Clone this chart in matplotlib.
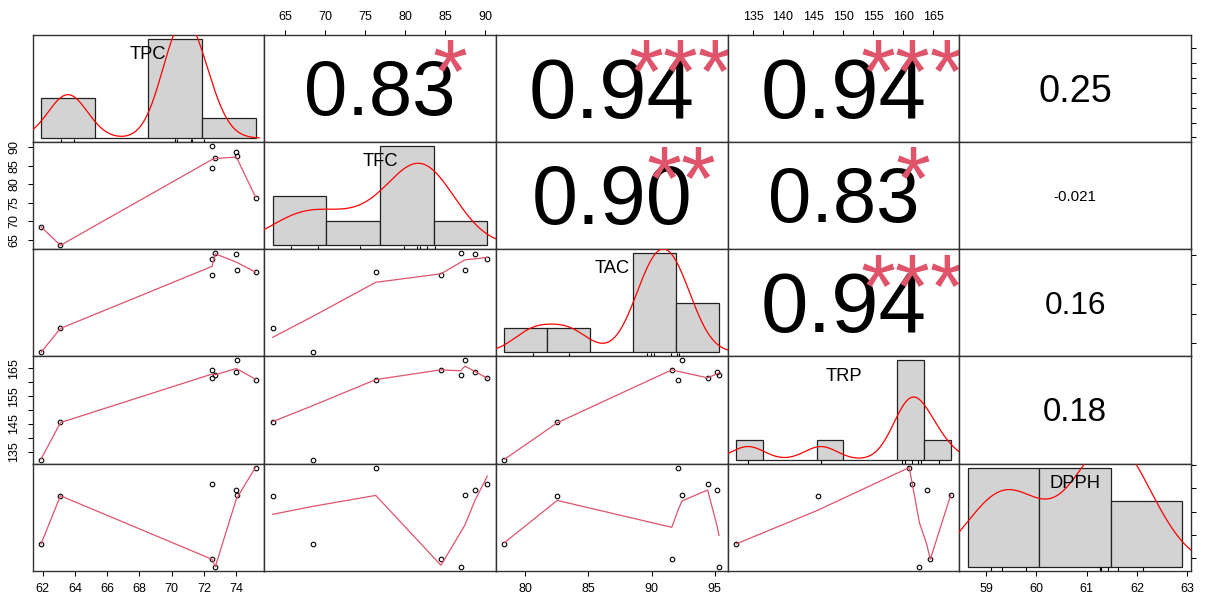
import numpy as np
import matplotlib
matplotlib.use("Agg")
import matplotlib.pyplot as plt
from matplotlib.textpath import TextPath
from matplotlib.font_manager import FontProperties
from matplotlib.transforms import offset_copy

plt.rcParams["font.family"] = "Liberation Sans"

# measurements for the 8 samples
names = ["TPC", "TFC", "TAC", "TRP", "DPPH"]
tpc = [61.9, 63.1, 72.5, 72.5, 72.7, 74.05, 74.0, 75.2]
tfc = [68.45, 63.47, 84.5, 90.3, 86.95, 87.5, 88.75, 76.35]
tac = [78.35, 82.53, 91.6, 94.44, 95.34, 92.42, 95.15, 92.13]
trp = [132.2, 145.8, 164.5, 161.5, 162.7, 167.9, 163.9, 161.0]
dpph = [59.62, 61.69, 58.96, 62.2, 58.64, 61.72, 61.92, 62.9]

# upper triangle, row by row: correlation text and significance stars
cor_text = ["0.83", "0.94", "0.94", "0.25", "0.90", "0.83", "-0.021", "0.94", "0.16", "0.18"]
cor_stars = ["*", "***", "***", "", "**", "*", "", "***", "", ""]

W_PX, H_PX, DPI = 1205, 594, 100
LEFT, RIGHT, TOP, BOTTOM = 32.5, 1191.0, 35.0, 570.7
TEXT_SHRINK = 0.94
LABEL_FS = 9
STAR_COL = "#DF536B"
FP = FontProperties(family="Liberation Sans")
ADV = {".": 0.278, "-": 0.333, "*": 0.389}


def pretty_unit(lo, hi, n, h, h5):
    cell = (hi - lo) / n
    base = 10 ** np.floor(np.log10(cell))
    unit = base
    if 2 * base - cell < h * (cell - unit):
        unit = 2 * base
        if 5 * base - cell < h5 * (cell - unit):
            unit = 5 * base
            if 10 * base - cell < h * (cell - unit):
                unit = 10 * base
    return unit


def axis_ticks(lo, hi):
    u = pretty_unit(lo, hi, 5, 0.8, 1.7)
    return np.arange(np.ceil(lo / u - 1e-10), np.floor(hi / u + 1e-10) + 1) * u


def fd_breaks(x):
    q1, q3 = np.percentile(x, [25, 75])
    h = 2 * (q3 - q1) * len(x) ** (-1 / 3)
    k = int(np.ceil((x.max() - x.min()) / h)) if h > 0 else 1
    u = pretty_unit(x.min(), x.max(), k, 1.5, 2.75)
    lo = np.floor(x.min() / u + 1e-7)
    hi = np.ceil(x.max() / u - 1e-7)
    return np.arange(lo, hi + 1) * u


def extend(v):
    lo, hi = min(v), max(v)
    d = 0.04 * (hi - lo)
    return lo - d, hi + d


def lowest(x, y, xs, nleft, nright, rw, userw):
    n = len(x)
    rng = x[-1] - x[0]
    h = max(xs - x[nleft], x[nright] - xs)
    h9, h1 = 0.999 * h, 0.001 * h
    w = np.zeros(n)
    a = 0.0
    j = nleft
    while j < n:
        r = abs(x[j] - xs)
        if r <= h9:
            w[j] = 1.0 if r <= h1 else (1 - (r / h) ** 3) ** 3
            if userw:
                w[j] *= rw[j]
            a += w[j]
        elif x[j] > xs:
            break
        j += 1
    nrt = j - 1
    if a <= 0:
        return None
    sl = slice(nleft, nrt + 1)
    w[sl] /= a
    if h > 0:
        a = np.sum(w[sl] * x[sl])
        b = xs - a
        c = np.sum(w[sl] * (x[sl] - a) ** 2)
        if np.sqrt(c) > 0.001 * rng:
            b /= c
            w[sl] *= b * (x[sl] - a) + 1
    return np.sum(w[sl] * y[sl])


def lowess(x, y, f=2 / 3, iters=3):
    o = np.argsort(x, kind="stable")
    x = np.asarray(x, float)[o]
    y = np.asarray(y, float)[o]
    n = len(x)
    ns = max(2, min(n, int(f * n + 1e-7)))
    delta = 0.01 * (x[-1] - x[0])
    rw = np.ones(n)
    ys = np.zeros(n)
    for it in range(iters + 1):
        nleft, nright = 0, ns - 1
        last, i = -1, 0
        while True:
            while nright < n - 1:
                if x[i] - x[nleft] <= x[nright + 1] - x[i]:
                    break
                nleft += 1
                nright += 1
            v = lowest(x, y, x[i], nleft, nright, rw, it > 0)
            ys[i] = y[i] if v is None else v
            if last < i - 1:
                den = x[i] - x[last]
                for j in range(last + 1, i):
                    al = (x[j] - x[last]) / den
                    ys[j] = al * ys[i] + (1 - al) * ys[last]
            last = i
            cut = x[last] + delta
            i = last + 1
            while i < n:
                if x[i] > cut:
                    break
                if x[i] == x[last]:
                    ys[i] = ys[last]
                    last = i
                i += 1
            i = max(last + 1, i - 1)
            if last >= n - 1:
                break
        if it == iters:
            break
        res = np.abs(y - ys)
        sc = res.mean()
        cmad = 6 * np.median(res)
        if cmad < 1e-7 * sc:
            break
        rw = np.where(res <= 0.001 * cmad, 1.0,
                      np.where(res <= 0.999 * cmad, (1 - (res / cmad) ** 2) ** 2, 0.0))
    return x, ys


def density(x, npts=512):
    n = len(x)
    q1, q3 = np.percentile(x, [25, 75])
    bw = 0.9 * min(np.std(x, ddof=1), (q3 - q1) / 1.34) * n ** (-0.2)
    gx = np.linspace(x.min() - 3 * bw, x.max() + 3 * bw, npts)
    gy = np.exp(-0.5 * ((gx[:, None] - x[None, :]) / bw) ** 2).sum(1) / (n * bw * np.sqrt(2 * np.pi))
    return gx, gy


def text_mid(ax, x, y, txt, size, **kw):
    ext = TextPath((0, 0), txt, size=1, prop=FP).get_extents()
    dy = -(ext.y0 + ext.y1) / 2 * size
    tr = offset_copy(ax.transAxes, fig=ax.figure, y=dy, units="points")
    ax.text(x, y, txt, transform=tr, fontsize=size, ha="center", va="baseline", **kw)


def tick_labels(ticks, px_per_unit):
    em = LABEL_FS * DPI / 72
    out, last = [], None
    for t in ticks:
        s = f"{t:g}"
        w = len(s) * 0.556 * em
        pos = t * px_per_unit
        if last is None or abs(pos - last) >= w + 0.25 * 0.833 * em:
            out.append(s)
            last = pos
        else:
            out.append("")
    return out


data = [np.array(v, float) for v in (tpc, tfc, tac, trp, dpph)]
nv = len(data)
lims = [extend(v) for v in data]
pw = (RIGHT - LEFT) / nv
ph = (BOTTOM - TOP) / nv

fig = plt.figure(figsize=(W_PX / DPI, H_PX / DPI), dpi=DPI)

k = 0
for i in range(nv):
    for j in range(nv):
        ax = fig.add_axes([(LEFT + j * pw) / W_PX, 1 - (TOP + (i + 1) * ph) / H_PX,
                           pw / W_PX, ph / H_PX])
        ax.set_xlim(lims[j])
        ax.set_ylim(lims[i])
        ax.set_xticks([])
        ax.set_yticks([])
        for sp in ax.spines.values():
            sp.set_color("#333333")
            sp.set_linewidth(1.0)
        ax.tick_params(length=3.6, width=0.75, labelsize=LABEL_FS, pad=5, colors="black")

        if i == j:
            x = data[i]
            br = fd_breaks(x)
            idx = np.clip(np.searchsorted(br, x, side="left") - 1, 0, len(br) - 2)
            counts = np.bincount(idx, minlength=len(br) - 1)
            dens = counts / (len(x) * np.diff(br))
            ah = ax.inset_axes([0, 0, 1, 1])
            ah.axis("off")
            ah.patch.set_alpha(0)
            ah.set_xlim(br[0] - 0.04 * (br[-1] - br[0]), br[-1] + 0.04 * (br[-1] - br[0]))
            ah.set_ylim(-0.04 * dens.max(), 1.04 * dens.max())
            ah.bar(br[:-1], dens, width=np.diff(br), align="edge", color="#D3D3D3",
                   edgecolor="#222222", linewidth=0.9)
            gx, gy = density(x)
            ah.plot(gx, gy, color="red", lw=0.9)
            ah.vlines(x, 0, 0.03, transform=ah.get_xaxis_transform(), color="black", lw=0.8)
            text_mid(ah, 0.5, 0.833, names[i], 13.2, color="black")
        elif i > j:
            ax.plot(data[j], data[i], "o", mfc="none", mec="black", ms=3.3, mew=0.8)
            lx, ly = lowess(data[j], data[i])
            ax.plot(lx, ly, color=STAR_COL, lw=0.9)
        else:
            txt = cor_text[k]
            r = abs(float(txt))
            base_em = 0.8 * pw * TEXT_SHRINK / sum(ADV.get(c, 0.556) for c in txt)
            text_mid(ax, 0.5, 0.5, txt, base_em * (r + 0.3) / 1.3 * 72 / DPI, color="black")
            if cor_stars[k]:
                text_mid(ax, 0.8, 0.8, cor_stars[k], base_em * 72 / DPI, color=STAR_COL)
            k += 1

        # outer axes alternate between sides, as in a pairs plot
        xpx = pw / (lims[j][1] - lims[j][0])
        ypx = ph / (lims[i][1] - lims[i][0])
        if i == 0 and j % 2 == 1:
            t = axis_ticks(*lims[j])
            ax.xaxis.tick_top()
            ax.set_xticks(t, labels=tick_labels(t, xpx))
        if i == nv - 1 and j % 2 == 0:
            t = axis_ticks(*lims[j])
            ax.set_xticks(t, labels=tick_labels(t, xpx))
        if j == 0 and i % 2 == 1:
            t = axis_ticks(*lims[i])
            ax.set_yticks(t, labels=tick_labels(t, ypx))
            ax.tick_params(axis="y", labelrotation=90)
            for lb in ax.get_yticklabels():
                lb.set_va("center")
        if j == nv - 1 and i % 2 == 0:
            t = axis_ticks(*lims[i])
            ax.yaxis.tick_right()
            ax.set_yticks(t, labels=tick_labels(t, ypx))
            ax.tick_params(axis="y", labelrotation=90, pad=7)
            for lb in ax.get_yticklabels():
                lb.set_va("center")

fig.savefig("out.png", dpi=DPI)
